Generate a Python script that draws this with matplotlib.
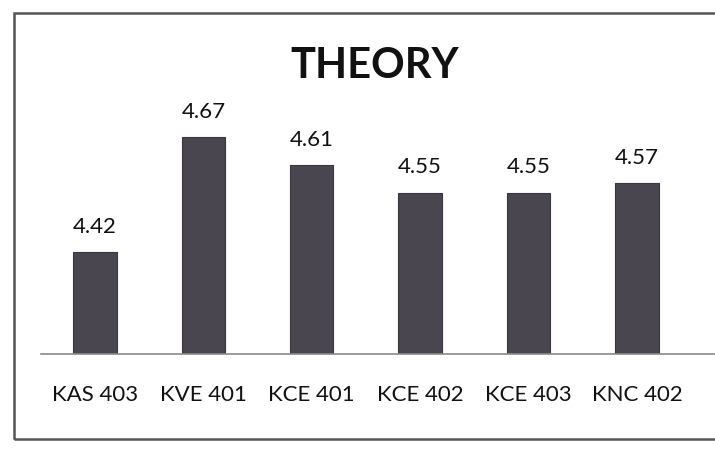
import matplotlib
matplotlib.use("Agg")
import matplotlib.pyplot as plt
from matplotlib.patches import Rectangle

courses = ["KAS 403", "KVE 401", "KCE 401", "KCE 402", "KCE 403", "KNC 402"]
scores = [4.42, 4.67, 4.61, 4.55, 4.55, 4.57]

plt.rcParams["font.family"] = ["Lato", "DejaVu Sans"]

fig = plt.figure(figsize=(7.15, 4.56), dpi=100)
ax = fig.add_axes([0.057, 0.222, 0.943, 0.606])

x = range(len(courses))
bars = ax.bar(x, scores, width=0.4, color="#4a4650", edgecolor="#3a3640", lw=0.8)
for b, v in zip(bars, scores):
    ax.text(b.get_x() + b.get_width() / 2, v + 0.035, f"{v:.2f}",
            ha="center", va="bottom", fontsize=16, color="#111111")

ax.set_ylim(4.2, 4.8)
ax.set_xlim(-0.5, 5.72)
ax.set_xticks(list(x))
ax.set_xticklabels(courses, fontsize=16, color="#111111")
ax.tick_params(axis="x", length=0, pad=22)
ax.set_yticks([])
for s in ["top", "left", "right"]:
    ax.spines[s].set_visible(False)
ax.spines["bottom"].set_color("#8a8a8a")
ax.spines["bottom"].set_linewidth(1.2)

fig.text(0.524, 0.855, "THEORY", ha="center", va="center",
         fontsize=30, fontweight="bold", color="#111111")

# outer chart frame
fig.patches.append(Rectangle((0.02, 0.035), 1.05, 0.935, transform=fig.transFigure,
                             fill=False, edgecolor="#555555", lw=1.8))

fig.savefig("out.png", dpi=100)
